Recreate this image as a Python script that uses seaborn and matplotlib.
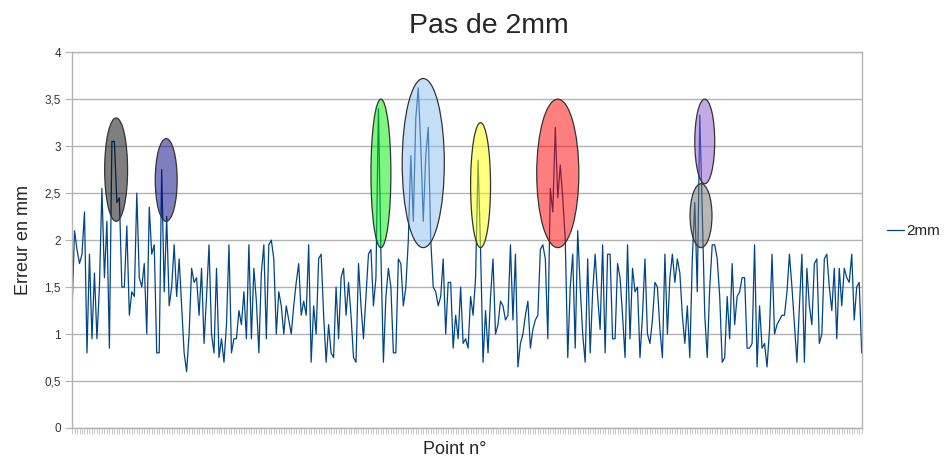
import numpy as np
import pandas as pd
import seaborn as sns
import matplotlib.pyplot as plt
from matplotlib.patches import Ellipse

# valeurs (erreur en mm), par tronçons
seg1 = [1.25, 2.1, 1.9, 1.75, 1.85, 2.3, 0.8, 1.85, 0.95, 1.65, 0.95, 1.5, 2.55, 1.6, 2.2,
        0.85, 3.05, 3.05, 2.4, 2.45, 1.5, 1.5, 2.15, 1.2, 1.45, 1.4, 2.5, 1.6, 1.5, 1.75,
        1.0, 2.35, 1.85, 1.95, 0.8, 0.8, 2.75, 1.45, 2.25, 1.3, 1.5, 1.95, 1.4, 1.8, 1.3,
        0.8, 0.6, 1.0, 1.7, 1.55, 1.6, 1.2]
seg2 = [1.7, 0.9, 1.4, 1.95, 1.0, 0.8, 1.7, 0.75, 0.95, 0.7, 1.1, 1.95, 0.8, 0.95, 0.95,
        1.25, 1.1, 1.45, 0.95, 1.95, 0.95, 1.7, 1.35, 0.8, 1.65, 1.95, 0.95, 1.95, 2.0, 1.8,
        1.0, 1.45, 1.3, 1.0, 1.3, 1.15, 1.0, 1.3, 1.55, 1.75, 1.2, 1.35, 1.2, 1.95, 0.7,
        1.3, 1.0, 1.8, 1.85, 1.2, 0.7, 1.1]
seg3 = [0.8, 0.75, 1.5, 0.95, 1.6, 1.7, 1.2, 1.55, 1.2, 0.75, 0.7, 1.75, 1.3, 0.95, 1.4,
        1.85, 1.9, 1.3, 1.6, 3.4, 1.85, 0.7, 1.4, 1.7, 1.5, 0.8, 0.8, 1.8, 1.75, 1.3,
        1.5, 2.0, 2.9, 2.2, 3.3, 3.62, 3.0, 2.2, 2.9, 3.2, 2.0, 1.5, 1.45, 1.3, 1.4,
        1.8, 1.0, 1.55, 1.55, 0.85, 1.2, 0.95]
seg4 = [1.5, 0.9, 0.95, 0.85, 1.4, 1.2, 1.6, 2.85, 1.9, 0.7, 1.25, 0.8, 1.4, 1.8, 1.0,
        1.1, 1.35, 1.3, 1.15, 1.2, 1.95, 1.15, 1.85, 0.65, 0.9, 1.0, 1.2, 1.35, 0.85, 1.05,
        1.15, 1.2, 1.9, 1.95, 1.8, 0.95, 2.55, 2.3, 3.2, 2.45, 2.8, 2.45, 2.0, 0.75, 1.5,
        1.85, 0.85, 2.1, 1.5, 1.0, 0.7, 1.8]
seg5 = [0.8, 1.45, 1.85, 1.4, 1.05, 1.95, 0.8, 1.85, 1.85, 0.95, 0.95, 1.75, 1.6, 1.2, 0.75,
        1.95, 0.95, 1.7, 1.45, 1.5, 0.75, 1.2, 1.8, 1.0, 0.9, 1.15, 1.55, 1.5, 1.05, 0.75,
        1.85, 1.0, 1.6, 1.85, 1.55, 1.8, 1.65, 1.2, 0.9, 1.3, 0.75, 1.8, 2.4, 1.45, 3.33,
        2.3, 1.2, 0.75, 1.5, 1.95, 1.95, 1.8]
seg6 = [1.4, 0.7, 0.75, 1.4, 0.95, 1.75, 1.1, 1.4, 1.45, 1.6, 1.6, 0.85, 0.85, 0.9, 1.95,
        0.65, 1.3, 0.85, 0.9, 0.65, 1.05, 1.85, 1.0, 1.1, 1.15, 1.2, 1.2, 1.45, 1.85, 1.5,
        1.1, 0.7, 1.3, 1.85, 0.7, 1.7, 1.3, 1.1, 1.75, 1.8, 0.9, 1.0, 1.8, 1.85, 1.5,
        1.25, 1.7, 0.95, 1.7, 1.3, 1.7, 1.6, 1.55, 1.85, 1.15, 1.5, 1.55, 0.8]

y_ticks = [0, 0.5, 1, 1.5, 2, 2.5, 3, 3.5, 4]
y_tick_labels = ['0', '0,5', '1', '1,5', '2', '2,5', '3', '3,5', '4']

# zones entourées : (centre en n° de point, bas, haut, largeur en points, couleur)
zones = [
    (17.7, 2.2, 3.3, 9.2, '#000000'),
    (37.8, 2.2, 3.08, 8.8, '#000080'),
    (124, 1.92, 3.5, 8.0, '#00ee00'),
    (141, 1.92, 3.72, 16.9, '#8dc0f3'),
    (164, 1.92, 3.25, 8.0, '#ffff00'),
    (195, 1.92, 3.5, 16.9, '#ff0000'),
    (254, 2.6, 3.5, 8.0, '#8a55d0'),
    (252.5, 1.92, 2.6, 8.8, '#707070'),
]

erreur = seg1 + seg2 + seg3 + seg4 + seg5 + seg6
df = pd.DataFrame({'point': np.arange(len(erreur)), 'erreur': erreur})

#%% graphique
sns.set_style('white')
plt.rcParams['font.family'] = ['Liberation Sans', 'DejaVu Sans']

fig, ax = plt.subplots(figsize=(9.49, 4.62), dpi=100)
fig.subplots_adjust(left=0.0759, right=0.908, top=0.887, bottom=0.0736)

sns.lineplot(data=df, x='point', y='erreur', color='#004586', linewidth=0.9,
             label='2mm', ax=ax, zorder=2)

for cx, lo, hi, w, col in zones:
    e = Ellipse((cx, (lo + hi) / 2), width=w, height=hi - lo, facecolor=col,
                edgecolor='none', alpha=0.5, zorder=3)
    ax.add_patch(e)
    e2 = Ellipse((cx, (lo + hi) / 2), width=w, height=hi - lo, facecolor='none',
                 edgecolor='#333333', linewidth=0.9, zorder=4)
    ax.add_patch(e2)

ax.set_xlim(0, len(erreur) - 1)
ax.set_ylim(0, 4)
ax.set_yticks(y_ticks)
ax.set_yticklabels(y_tick_labels, fontsize=8.5, color='#333333')
ax.set_xticks(np.arange(len(erreur)))
ax.set_xticklabels([])
ax.tick_params(axis='x', bottom=True, length=4, width=0.5, color='#b3b3b3', direction='out')
ax.tick_params(axis='y', left=True, length=5, width=0.8, color='#b3b3b3', direction='out', pad=3)
ax.yaxis.grid(True, color='#b3b3b3', linewidth=1)
ax.set_axisbelow(True)
for s in ax.spines.values():
    s.set_color('#b3b3b3')
    s.set_linewidth(1)

fig.suptitle('Pas de 2mm', x=0.515, y=0.972, va='top', fontsize=20.5)
ax.set_xlabel('Point n°', fontsize=13)
ax.xaxis.set_label_coords(0.485, -0.035)
ax.set_ylabel('Erreur en mm', fontsize=13, labelpad=9)

ax.get_legend().remove()
fig.legend(loc='center left', bbox_to_anchor=(0.92, 0.5), frameon=False,
           fontsize=11, handlelength=1.1, handletextpad=0.2)

plt.savefig('out.png', dpi=100)
